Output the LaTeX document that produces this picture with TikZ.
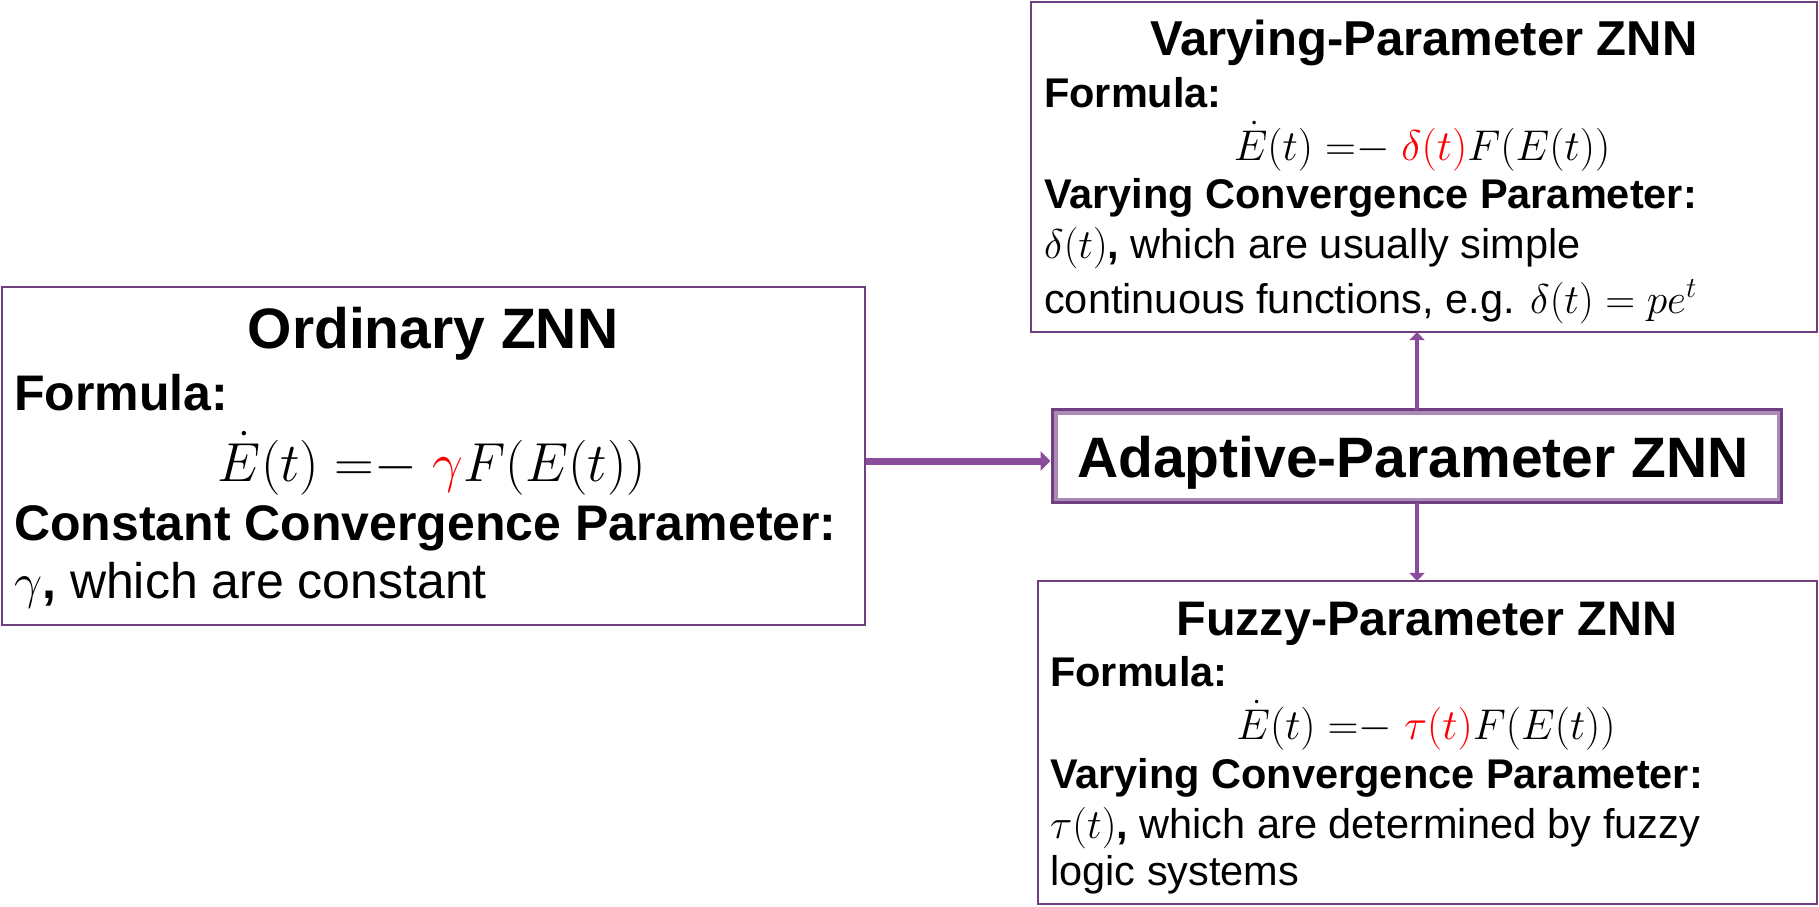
\RequirePackage{fix-cm}
\documentclass[tikz,border=0pt]{standalone}
\usepackage{fontspec}
\setmainfont{Liberation Sans}
\usetikzlibrary{arrows.meta}
\definecolor{boxcol}{HTML}{6F3F7F}
\definecolor{arrcol}{HTML}{8B4C9B}
\definecolor{lightcol}{HTML}{A98BB6}
\begin{document}
\begin{tikzpicture}[x=1pt,y=-1pt,
  box/.style={draw=boxcol,line width=2.2pt,rectangle,inner sep=0pt},
  txt/.style={inner sep=0pt,anchor=base west},
  ttl/.style={inner sep=0pt,anchor=base,font=\bfseries},
  eqn/.style={inner sep=0pt,anchor=base},
  bigarrow/.style={draw=arrcol,line width=7pt,-{Triangle[width=19pt,length=10pt]}},
  smallarrow/.style={draw=arrcol,line width=4.5pt,-{Triangle[width=15pt,length=8pt]}}
]
\useasboundingbox (0,0) rectangle (1819,906);
% boxes
\node[box,minimum width=863pt,minimum height=338pt] (ord) at (433.5,456) {};
\node[box,minimum width=786pt,minimum height=330pt] (var) at (1424,167) {};
\node[box,minimum width=779pt,minimum height=323pt] (fuz) at (1427.5,742.5) {};
\node[draw=lightcol,line width=5pt,inner sep=0pt,minimum width=724pt,minimum height=88pt] (ap) at (1417,456) {};
\draw[boxcol,line width=2.2pt] (ap.north west) rectangle (ap.south east);

% ordinary texts
\node[ttl,font=\fontsize{57}{68}\selectfont\bfseries] (ordt) at (433,348) {Ordinary ZNN};
\node[txt,font=\fontsize{50}{60}\selectfont\bfseries] (ordf) at (14,410) {Formula:};
\node[eqn,font=\fontsize{55}{64}\selectfont] (orde) at (432,481) {$\dot{E}(t)\;{=}{-}\;\textcolor{red}{\gamma}F(E(t))$};
\node[txt,font=\fontsize{50}{60}\selectfont\bfseries] (ordc) at (14,540) {Constant Convergence Parameter:};
\node[txt,font=\fontsize{50}{60}\selectfont] (ordg) at (14,598) {$\gamma$\textbf{,} which are constant};

% varying texts
\node[ttl,font=\fontsize{49}{58}\selectfont\bfseries] (vart) at (1424,55) {Varying-Parameter ZNN};
\node[txt,font=\fontsize{41.5}{49}\selectfont\bfseries] (varf) at (1044,107) {Formula:};
\node[eqn,font=\fontsize{43}{50}\selectfont] (vare) at (1422,160) {$\dot{E}(t)\;{=}{-}\;\textcolor{red}{\delta(t)}F(E(t))$};
\node[txt,font=\fontsize{41.5}{49}\selectfont\bfseries] (varc) at (1044,208) {Varying Convergence Parameter:};
\node[txt,font=\fontsize{41.5}{49}\selectfont] (vard) at (1044,258) {$\delta(t)$\textbf{,} which are usually simple};
\node[txt,font=\fontsize{41.5}{49}\selectfont] (varg) at (1044,313) {continuous functions, e.g. $\delta(t)=pe^{t}$};

% fuzzy texts
\node[ttl,font=\fontsize{48.5}{58}\selectfont\bfseries] (fuzt) at (1427,635) {Fuzzy-Parameter ZNN};
\node[txt,font=\fontsize{41.5}{49}\selectfont\bfseries] (fuzf) at (1050,686) {Formula:};
\node[eqn,font=\fontsize{43}{50}\selectfont] (fuze) at (1426,739) {$\dot{E}(t)\;{=}{-}\;\textcolor{red}{\tau(t)}F(E(t))$};
\node[txt,font=\fontsize{41.5}{49}\selectfont\bfseries] (fuzc) at (1050,788) {Varying Convergence Parameter:};
\node[txt,font=\fontsize{41.5}{49}\selectfont] (fuzd) at (1050,838) {$\tau(t)$\textbf{,} which are determined by fuzzy};
\node[txt,font=\fontsize{41.5}{49}\selectfont] (fuzl) at (1050,885) {logic systems};

% adaptive text
\node[ttl,font=\fontsize{57}{68}\selectfont\bfseries] (apt) at (1413,477) {Adaptive-Parameter ZNN};

% connectors
\draw[bigarrow] ([yshift=-5pt]ord.east) -- ([yshift=-5pt,xshift=-2pt]ap.west);
\draw[smallarrow] (ap.north) -- ([yshift=1pt]ap.north |- var.south);
\draw[smallarrow] (ap.south) -- ([yshift=-1pt]ap.south |- fuz.north);
\end{tikzpicture}
\end{document}
